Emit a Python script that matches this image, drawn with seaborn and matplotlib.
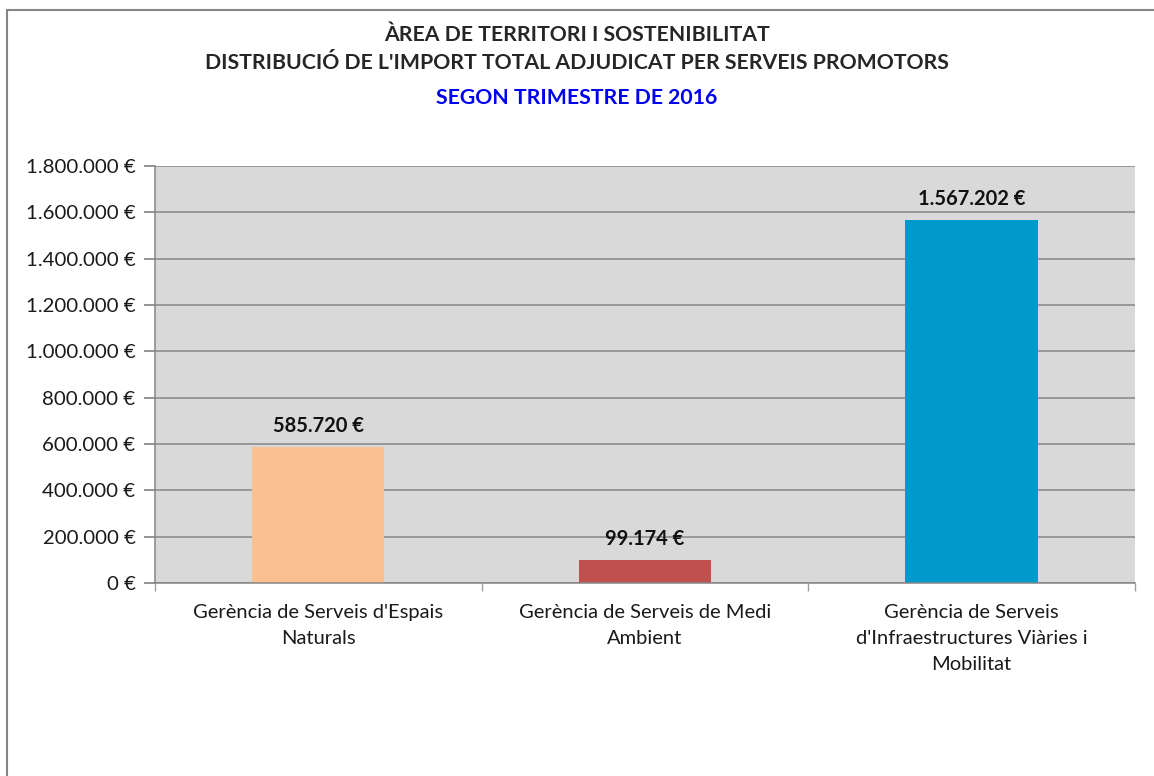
import matplotlib
matplotlib.use("Agg")
import matplotlib.pyplot as plt
import matplotlib.patches as mpatches
import seaborn as sns
import pandas as pd

# Dades del gràfic
categories = [
    "Gerència de Serveis d'Espais\nNaturals",
    "Gerència de Serveis de Medi\nAmbient",
    "Gerència de Serveis\nd'Infraestructures Viàries i\nMobilitat",
]
imports = [585720, 99174, 1567202]
bar_colors = ["#FAC090", "#C0504D", "#0099CC"]
y_ticks = [0, 200000, 400000, 600000, 800000, 1000000, 1200000, 1400000, 1600000, 1800000]

title_lines = [
    "ÀREA DE TERRITORI I SOSTENIBILITAT",
    "DISTRIBUCIÓ DE L'IMPORT TOTAL ADJUDICAT PER SERVEIS PROMOTORS",
    "SEGON TRIMESTRE DE 2016",
]


def euro(v):
    return "{:,.0f} €".format(v).replace(",", ".")


sns.set_theme(style="white")
plt.rcParams['font.family'] = ['Lato', 'DejaVu Sans']

df = pd.DataFrame({"servei": categories, "import": imports})

fig = plt.figure(figsize=(11.54, 7.76), dpi=100)
ax = fig.add_axes([0.1343, 0.2487, 0.8492, 0.5374])

sns.barplot(data=df, x="servei", y="import", hue="servei", palette=bar_colors,
            width=0.405, legend=False, ax=ax, saturation=1, linewidth=0)

ax.set_facecolor("#D9D9D9")
ax.set_ylim(0, 1800000)
ax.set_xlim(-0.5, 2.5)
ax.set_yticks(y_ticks)
ax.set_yticklabels([euro(v) for v in y_ticks], fontsize=14.7, color="#1a1a1a")
ax.yaxis.grid(True, color="#868686", linewidth=1.1)
ax.set_axisbelow(True)
ax.set_xlabel("")
ax.set_ylabel("")

ax.set_xticks(range(len(categories)))
ax.set_xticklabels(categories, fontsize=14.5, color="#1a1a1a", linespacing=1.65)
ax.tick_params(axis="x", length=0, pad=15)
ax.set_xticks([-0.5, 0.5, 1.5, 2.5], minor=True)
ax.tick_params(axis="x", which="minor", length=6, color="#a0a0a0", direction="out", bottom=True)
ax.tick_params(axis="y", length=8, color="#868686", direction="out", left=True, pad=6)

for s in ["top", "right"]:
    ax.spines[s].set_visible(False)
for s in ["left", "bottom"]:
    ax.spines[s].set_color("#868686")
    ax.spines[s].set_linewidth(1.1)

for cont in ax.containers:
    ax.bar_label(cont, labels=[euro(v) for v in cont.datavalues], padding=8,
                 fontsize=14.5, fontweight="bold", color="#111111")

fig.text(0.5, 0.9475, title_lines[0], ha="center", va="baseline", fontsize=15.3, fontweight="bold")
fig.text(0.5, 0.9110, title_lines[1], ha="center", va="baseline", fontsize=15.3, fontweight="bold")
fig.text(0.5, 0.8665, title_lines[2], ha="center", va="baseline", fontsize=15.3, fontweight="bold",
         color="#0000F0")

fig.patches.append(mpatches.Rectangle((0.006, -0.1), 1.2, 1.087, transform=fig.transFigure,
                                      fill=False, edgecolor="#868686", linewidth=1.5))

fig.savefig("out.png", dpi=100, facecolor="white")
